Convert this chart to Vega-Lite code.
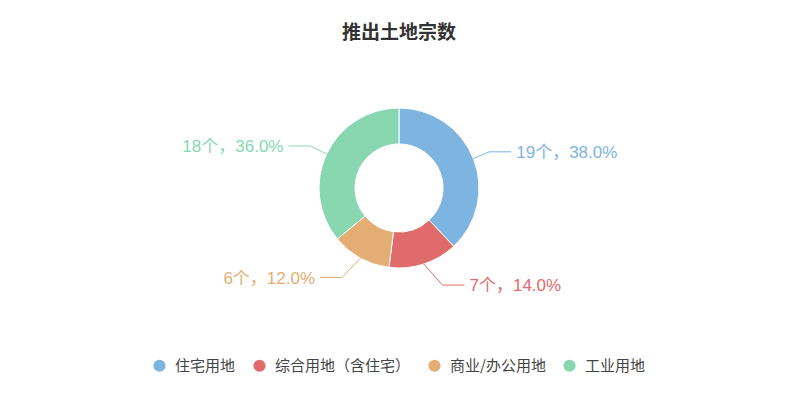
{
  "$schema": "https://vega.github.io/schema/vega-lite/v6.json",
  "width": 798,
  "height": 260,
  "padding": {"top": 24, "left": 0, "right": 0, "bottom": 10},
  "autosize": {"type": "pad"},
  "background": "#ffffff",
  "title": {"text": "推出土地宗数", "fontSize": 19, "font": "Noto Sans CJK SC", "fontWeight": "bold", "color": "#333333", "anchor": "middle", "offset": 15},
  "data": {"values": [
    {"type": "住宅用地", "count": 19, "order": 1},
    {"type": "综合用地（含住宅）", "count": 7, "order": 2},
    {"type": "商业/办公用地", "count": 6, "order": 3},
    {"type": "工业用地", "count": 18, "order": 4}
  ]},
  "transform": [
    {"window": [{"op": "sum", "field": "count", "as": "cum"}], "sort": [{"field": "order"}], "frame": [null, 0]},
    {"joinaggregate": [{"op": "sum", "field": "count", "as": "total"}]},
    {"calculate": "datum.cum - datum.count", "as": "start"},
    {"calculate": "(datum.start + datum.count / 2) / datum.total * 2 * PI", "as": "mid"},
    {"calculate": "sin(datum.mid) >= 0 ? 1 : -1", "as": "side"},
    {"calculate": "80 * sin(datum.mid)", "as": "sx"},
    {"calculate": "80 * cos(datum.mid)", "as": "sy"},
    {"calculate": "datum.sx + (14 + 5 * abs(cos(datum.mid))) * datum.side", "as": "ex"},
    {"calculate": "datum.sy + 21 * cos(datum.mid) - 1", "as": "ey"},
    {"calculate": "datum.ex + 22 * datum.side", "as": "hx"},
    {"calculate": "datum.hx + 5 * datum.side", "as": "tx"},
    {"calculate": "datum.count + '个，' + format(datum.count / datum.total, '.1%')", "as": "label"}
  ],
  "layer": [
    {
      "mark": {"type": "arc", "outerRadius": 80, "innerRadius": 44, "stroke": "#ffffff", "strokeWidth": 1},
      "encoding": {
        "theta": {"field": "count", "type": "quantitative", "stack": true},
        "order": {"field": "order", "type": "quantitative"},
        "color": {
          "field": "type", "type": "nominal",
          "scale": {"domain": ["住宅用地", "综合用地（含住宅）", "商业/办公用地", "工业用地"], "range": ["#7eb4e0", "#e06b6b", "#e4ad73", "#88d7b1"]},
          "legend": {"orient": "none", "legendX": 152, "legendY": 300, "direction": "horizontal", "title": null, "symbolType": "circle", "symbolSize": 150, "symbolStrokeWidth": 0, "labelFontSize": 15, "labelFont": "Noto Sans CJK SC", "labelColor": "#444444", "labelOffset": 8, "columnPadding": 16}
        }
      }
    },
    {
      "mark": {"type": "rule", "strokeWidth": 1},
      "encoding": {
        "x": {"field": "sx", "type": "quantitative", "scale": {"domain": [-399, 399], "nice": false}, "axis": null},
        "y": {"field": "sy", "type": "quantitative", "scale": {"domain": [-130, 130], "nice": false}, "axis": null},
        "x2": {"field": "ex"},
        "y2": {"field": "ey"},
        "stroke": {"field": "type", "type": "nominal", "scale": {"domain": ["住宅用地", "综合用地（含住宅）", "商业/办公用地", "工业用地"], "range": ["#7eb4e0", "#e06b6b", "#e4ad73", "#88d7b1"]}, "legend": null}
      }
    },
    {
      "mark": {"type": "rule", "strokeWidth": 1},
      "encoding": {
        "x": {"field": "ex", "type": "quantitative", "scale": {"domain": [-399, 399], "nice": false}, "axis": null},
        "y": {"field": "ey", "type": "quantitative", "scale": {"domain": [-130, 130], "nice": false}, "axis": null},
        "x2": {"field": "hx"},
        "stroke": {"field": "type", "type": "nominal", "legend": null}
      }
    },
    {
      "transform": [{"filter": "datum.side > 0"}],
      "mark": {"type": "text", "align": "left", "baseline": "middle", "dy": 1, "fontSize": 17, "font": "Liberation Sans, Noto Sans CJK SC"},
      "encoding": {
        "x": {"field": "tx", "type": "quantitative", "scale": {"domain": [-399, 399], "nice": false}, "axis": null},
        "y": {"field": "ey", "type": "quantitative", "scale": {"domain": [-130, 130], "nice": false}, "axis": null},
        "text": {"field": "label"},
        "fill": {"field": "type", "type": "nominal", "scale": {"domain": ["住宅用地", "综合用地（含住宅）", "商业/办公用地", "工业用地"], "range": ["#7eb4e0", "#e06b6b", "#e4ad73", "#88d7b1"]}, "legend": null}
      }
    },
    {
      "transform": [{"filter": "datum.side < 0"}],
      "mark": {"type": "text", "align": "right", "baseline": "middle", "dy": 1, "fontSize": 17, "font": "Liberation Sans, Noto Sans CJK SC"},
      "encoding": {
        "x": {"field": "tx", "type": "quantitative", "scale": {"domain": [-399, 399], "nice": false}, "axis": null},
        "y": {"field": "ey", "type": "quantitative", "scale": {"domain": [-130, 130], "nice": false}, "axis": null},
        "text": {"field": "label"},
        "fill": {"field": "type", "type": "nominal", "legend": null}
      }
    }
  ],
  "config": {"view": {"stroke": null}}
}
